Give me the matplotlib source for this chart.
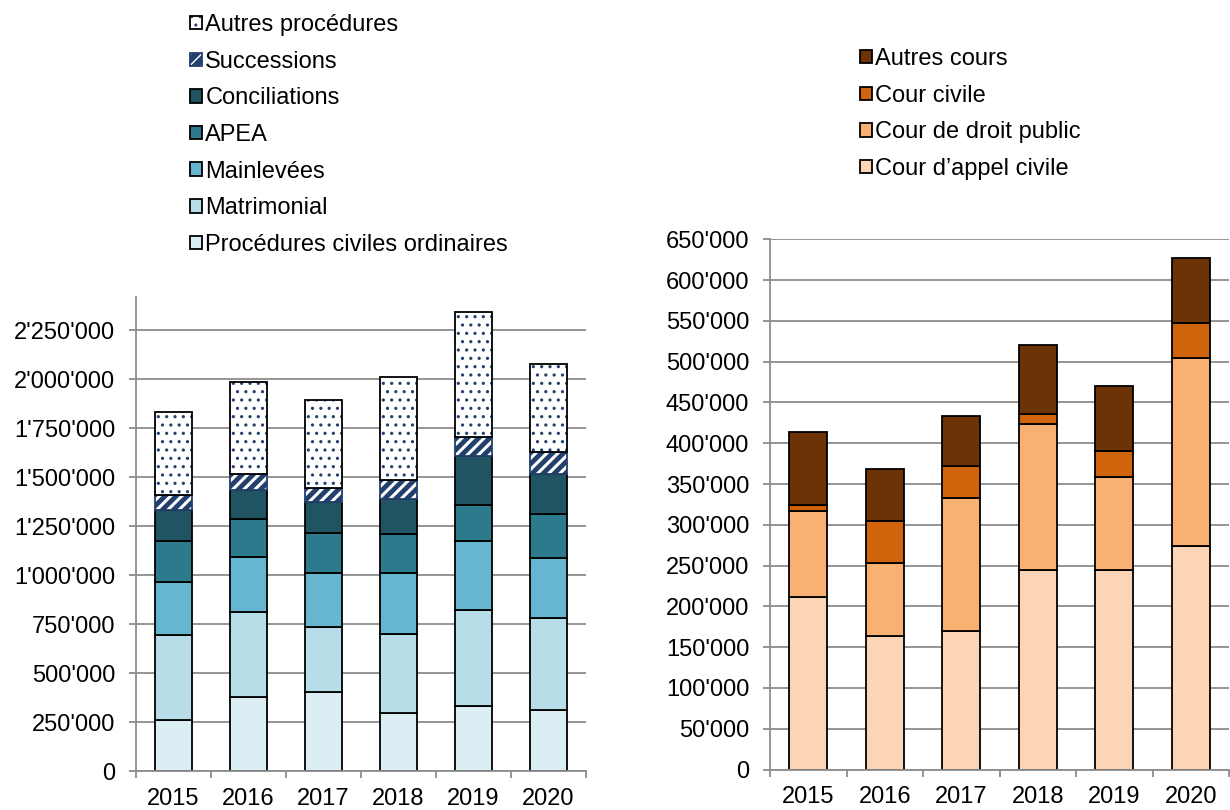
import matplotlib
matplotlib.use("Agg")
import matplotlib.pyplot as plt
import numpy as np
from matplotlib.ticker import FuncFormatter, FixedLocator, MultipleLocator

plt.rcParams['font.family'] = ['Liberation Sans', 'DejaVu Sans']
plt.rcParams['font.size'] = 17

years = ['2015', '2016', '2017', '2018', '2019', '2020']

# Civil procedures, stacked from bottom to top
left_labels = ['Procédures civiles ordinaires', 'Matrimonial', 'Mainlevées',
               'APEA', 'Conciliations', 'Successions', 'Autres procédures']
proc_civiles = [260000, 379000, 401000, 294000, 333000, 311000]
matrimonial = [434000, 434000, 332000, 408000, 488000, 468000]
mainlevees = [269000, 280000, 276000, 307000, 352000, 306000]
apea = [210000, 194000, 207000, 202000, 184000, 226000]
conciliations = [159000, 150000, 158000, 177000, 250000, 203000]
successions = [78000, 80000, 73000, 100000, 99000, 117000]
autres_proc = [425000, 469000, 446000, 526000, 636000, 446000]

# Courts, stacked from bottom to top
right_labels = ['Cour d’appel civile', 'Cour de droit public', 'Cour civile', 'Autres cours']
cour_appel = [212000, 164000, 170000, 245000, 245000, 274000]
cour_droit_public = [105000, 89000, 163000, 179000, 114000, 231000]
cour_civile = [7000, 52000, 39000, 12000, 32000, 42000]
autres_cours = [90000, 63000, 61000, 84000, 79000, 80000]

GRID = '#8c8c8c'
NAVY = '#233f6c'
EDGE_LW = 1.3


def fmt(v, _pos=None):
    return f"{int(round(v)):,}".replace(',', "'")


def style_axes(ax, ymax, step):
    n = len(years)
    ax.set_xlim(-0.5, n - 0.5)
    ax.set_ylim(0, ymax)
    ax.yaxis.set_major_locator(MultipleLocator(step))
    ax.yaxis.set_major_formatter(FuncFormatter(fmt))
    ax.set_axisbelow(True)
    ax.grid(axis='y', color=GRID, linewidth=1.3)
    for s in ('top', 'right'):
        ax.spines[s].set_visible(False)
    for s in ('left', 'bottom'):
        ax.spines[s].set_color(GRID)
        ax.spines[s].set_linewidth(1.3)
    ax.xaxis.set_major_locator(FixedLocator(np.arange(-0.5, n, 1.0)))
    ax.xaxis.set_minor_locator(FixedLocator(np.arange(n)))
    ax.xaxis.set_major_formatter(FuncFormatter(lambda v, p: ''))
    ax.set_xticks(np.arange(n), years, minor=True)
    ax.tick_params(axis='x', which='major', length=5, width=1.3, color=GRID)
    ax.tick_params(axis='x', which='minor', length=0, pad=12, labelsize=17)
    ax.tick_params(axis='y', length=5, width=1.3, color=GRID, pad=10, labelsize=17)


fig = plt.figure(figsize=(12.3, 8.1), dpi=100)
axL = fig.add_axes([136 / 1230, 1 - 771 / 810, 450 / 1230, (771 - 297) / 810])
axR = fig.add_axes([770 / 1230, 1 - 769.5 / 810, 459 / 1230, (769.5 - 239.3) / 810])

x = np.arange(len(years))
W = 0.5

# ---- left chart ----
left_series = [proc_civiles, matrimonial, mainlevees, apea, conciliations, successions, autres_proc]
left_colors = ['#daeef3', '#b7dee8', '#66b6cf', '#2e7a8d', '#215463', NAVY, 'white']
bottom = np.zeros(len(years))
left_handles = []
for i, (vals, col) in enumerate(zip(left_series, left_colors)):
    vals = np.asarray(vals, dtype=float)
    if left_labels[i] == 'Successions':
        with plt.rc_context({'hatch.linewidth': 2.2}):
            hb = axL.bar(x, vals, W, bottom=bottom, color=NAVY, edgecolor='white',
                         hatch='///', linewidth=0)
        ob = axL.bar(x, vals, W, bottom=bottom, fill=False, edgecolor=NAVY, linewidth=EDGE_LW)
        left_handles.append((hb[0], ob[0]))
    elif left_labels[i] == 'Autres procédures':
        with plt.rc_context({'hatch.linewidth': 1.1}):
            hb = axL.bar(x, vals, W, bottom=bottom, color='white', edgecolor=NAVY,
                         hatch='..', linewidth=0)
        ob = axL.bar(x, vals, W, bottom=bottom, fill=False, edgecolor='black', linewidth=EDGE_LW)
        left_handles.append((hb[0], ob[0]))
    else:
        b = axL.bar(x, vals, W, bottom=bottom, color=col, edgecolor='black', linewidth=EDGE_LW)
        left_handles.append(b[0])
    bottom += vals
style_axes(axL, 2420000, 250000)

# ---- right chart ----
right_series = [cour_appel, cour_droit_public, cour_civile, autres_cours]
right_colors = ['#fbd5b5', '#f8b173', '#cf640c', '#6b3306']
bottom = np.zeros(len(years))
right_handles = []
for vals, col in zip(right_series, right_colors):
    vals = np.asarray(vals, dtype=float)
    b = axR.bar(x, vals, W, bottom=bottom, color=col, edgecolor='black', linewidth=EDGE_LW)
    right_handles.append(b[0])
    bottom += vals
style_axes(axR, 650000, 50000)

# ---- legends (top item = top of stack) ----
leg_kw = dict(frameon=False, fontsize=17, handlelength=0.5, handleheight=0.5,
              handletextpad=0.15, labelspacing=0.62, borderpad=0, borderaxespad=0,
              loc='upper left')
fig.legend(left_handles[::-1], left_labels[::-1],
           bbox_to_anchor=(190 / 1230, 1 - 14 / 810), bbox_transform=fig.transFigure, **leg_kw)
fig.legend(right_handles[::-1], right_labels[::-1],
           bbox_to_anchor=(860 / 1230, 1 - 48 / 810), bbox_transform=fig.transFigure, **leg_kw)

fig.savefig('out.png', dpi=100)
